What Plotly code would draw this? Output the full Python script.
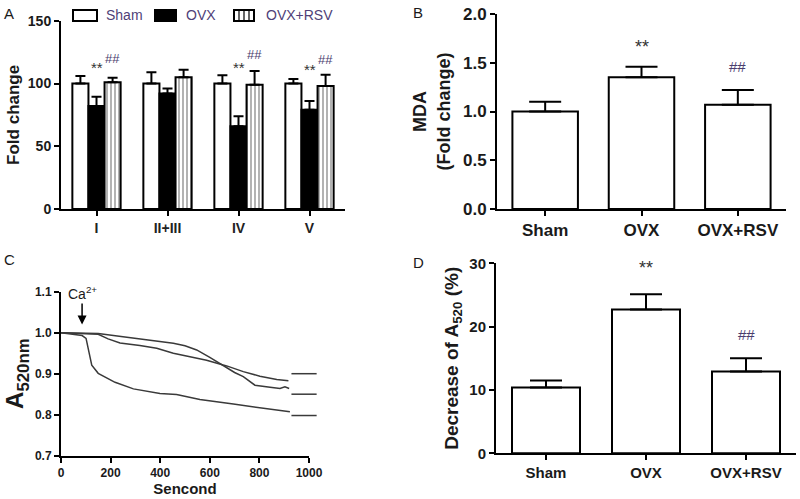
import plotly.graph_objects as go

W, H = 800, 499
FONT = "Liberation Sans, Arial, sans-serif"
TXT = "#1a1a1a"

# ---------------- Panel A data ----------------
complexes = ["I", "II+III", "IV", "V"]
a_sham = [100, 100, 100, 100]
a_sham_err = [6, 9, 6.5, 3.5]
a_ovx = [82, 92, 66, 79]
a_ovx_err = [7.5, 4, 8, 7]
a_rsv = [101, 105, 99, 98]
a_rsv_err = [3.5, 6, 11, 9]
a_star_y = [113, None, 113, 111]
a_hash_y = [120, None, 123, 119.5]

# ---------------- Panel B / D data ----------------
groups = ["Sham", "OVX", "OVX+RSV"]
b_mda = [1.0, 1.35, 1.07]
b_err = [0.1, 0.11, 0.15]
b_sig = ["", "**", "##"]
b_sig_y = [None, 1.66, 1.46]

d_dec = [10.4, 22.7, 12.9]
d_err = [1.1, 2.4, 2.1]
d_sig = ["", "**", "##"]
d_sig_y = [None, 29.3, 18.7]

# ---------------- Panel C data ----------------
c_sham_t = [0, 60, 100, 150, 190, 238, 318, 386, 453, 520, 587, 654, 668, 735, 802, 870, 917]
c_sham = [1.0, 0.999, 0.998, 0.996, 0.985, 0.975, 0.969, 0.962, 0.95, 0.942, 0.933, 0.921, 0.919, 0.905, 0.894, 0.886, 0.883]
c_rsv_t = [0, 100, 150, 250, 318, 400, 453, 500, 547, 600, 654, 700, 735, 782, 843, 883, 903, 920]
c_rsv = [1.0, 0.999, 0.998, 0.99, 0.985, 0.978, 0.974, 0.968, 0.958, 0.94, 0.919, 0.903, 0.893, 0.872, 0.867, 0.864, 0.868, 0.864]
c_ovx_t = [0, 50, 85, 101, 112, 124, 150, 184, 218, 292, 399, 466, 560, 695, 829, 923]
c_ovx = [1.0, 0.996, 0.993, 0.986, 0.955, 0.921, 0.901, 0.889, 0.879, 0.863, 0.852, 0.849, 0.837, 0.826, 0.814, 0.807]
c_labels = ["Sham", "OVX+RSV", "OVX"]
c_label_y = [0.90, 0.85, 0.798]
ca_time = 85


def px(x):
    return x / W


def py(y):
    return 1 - y / H


fig = go.Figure()

err_common = dict(type="data", symmetric=False, color="black", thickness=2)

# Panel A bars
fig.add_trace(go.Bar(x=complexes, y=a_sham, name="Sham", xaxis="x", yaxis="y",
                     marker=dict(color="white", line=dict(color="black", width=2)),
                     error_y=dict(array=a_sham_err, arrayminus=[0] * 4, width=5, **err_common),
                     showlegend=False))
fig.add_trace(go.Bar(x=complexes, y=a_ovx, name="OVX", xaxis="x", yaxis="y",
                     marker=dict(color="black", line=dict(color="black", width=2)),
                     error_y=dict(array=a_ovx_err, arrayminus=[0] * 4, width=5, **err_common),
                     showlegend=False))
fig.add_trace(go.Bar(x=complexes, y=a_rsv, name="OVX+RSV", xaxis="x", yaxis="y",
                     marker=dict(color="white", line=dict(color="black", width=2),
                                 pattern=dict(shape="|", fgcolor="black", bgcolor="white",
                                              size=4, solidity=0.3)),
                     error_y=dict(array=a_rsv_err, arrayminus=[0] * 4, width=5, **err_common),
                     showlegend=False))

# Panel B
fig.add_trace(go.Bar(x=groups, y=b_mda, xaxis="x2", yaxis="y2",
                     marker=dict(color="white", line=dict(color="black", width=2)),
                     error_y=dict(array=b_err, arrayminus=[0] * 3, width=16, **err_common),
                     showlegend=False))

# Panel C
for t, v in [(c_sham_t, c_sham), (c_rsv_t, c_rsv), (c_ovx_t, c_ovx)]:
    fig.add_trace(go.Scatter(x=t, y=v, mode="lines", xaxis="x3", yaxis="y3",
                             line=dict(color="#3a3a3a", width=1.5), showlegend=False))
fig.add_trace(go.Scatter(x=[980] * 3, y=c_label_y, mode="markers", xaxis="x3", yaxis="y3",
                         marker=dict(symbol="line-ew", size=18,
                                     line=dict(color="#3a3a3a", width=1.5)),
                         cliponaxis=False, showlegend=False, hoverinfo="skip"))

# Panel D
fig.add_trace(go.Bar(x=groups, y=d_dec, xaxis="x4", yaxis="y4",
                     marker=dict(color="white", line=dict(color="black", width=2)),
                     error_y=dict(array=d_err, arrayminus=[0] * 3, width=16, **err_common),
                     showlegend=False))

axis_common = dict(showline=True, linecolor="black", linewidth=2, ticks="outside",
                   ticklen=5, tickwidth=2, tickcolor="black", showgrid=False,
                   zeroline=False, mirror=False, automargin=False)


def ttl(text, size, standoff):
    return dict(text=text, standoff=standoff, font=dict(size=size, family=FONT, color=TXT))


fig.update_layout(
    width=W, height=H, margin=dict(l=0, r=0, t=0, b=0, autoexpand=False),
    paper_bgcolor="white", plot_bgcolor="white",
    barmode="group", bargap=0.32, bargroupgap=0,
    font=dict(family=FONT, color=TXT),
    xaxis=dict(domain=[px(61), px(345)], anchor="y", type="category",
               tickfont=dict(size=14, family=FONT, weight="bold", color="#222"), **axis_common),
    yaxis=dict(domain=[py(209), py(20.75)], anchor="x", range=[0, 150], dtick=50,
               title=ttl("<b>Fold change</b>", 17, 4),
               tickfont=dict(size=14, family=FONT, weight="bold"), **axis_common),
    xaxis2=dict(domain=[px(497), px(786)], anchor="y2", type="category",
                tickfont=dict(size=17, family=FONT, weight="bold"), **axis_common),
    yaxis2=dict(domain=[py(209), py(14)], anchor="x2", range=[0, 2.0], dtick=0.5,
                title=ttl("<b>MDA<br>(Fold change)</b>", 18, 8),
                tickformat=".1f", tickfont=dict(size=17, family=FONT, weight="bold"), **axis_common),
    xaxis3=dict(domain=[px(61), px(309)], anchor="y3", range=[0, 1000], dtick=200,
                title=ttl("<b>Sencond</b>", 15, 2),
                tickfont=dict(size=12, family=FONT, weight="bold"), **axis_common),
    yaxis3=dict(domain=[py(455.7), py(291.7)], anchor="x3", range=[0.7, 1.1], dtick=0.1,
                title=ttl("<b>A<sub>520nm</sub></b>", 24, 4),
                tickformat=".1f", tickfont=dict(size=12, family=FONT, weight="bold"), **axis_common),
    xaxis4=dict(domain=[px(496), px(796)], anchor="y4", type="category",
                tickfont=dict(size=15, family=FONT, weight="bold"), **axis_common),
    yaxis4=dict(domain=[py(453.3), py(263.3)], anchor="x4", range=[0, 30], dtick=10,
                title=ttl("<b>Decrease of A<sub>520</sub> (%)</b>", 19, 6),
                tickfont=dict(size=15, family=FONT, weight="bold"), **axis_common),
)

ann = []
# panel letters
for letter, x, y in [("A", 9, 13), ("B", 418, 12), ("C", 9, 259), ("D", 418, 262)]:
    ann.append(dict(text=letter, x=px(x), y=py(y), xref="paper", yref="paper",
                    xanchor="center", yanchor="middle",
                    showarrow=False, font=dict(size=15, family=FONT, color=TXT)))

# significance marks, panel A
off = 0.68 / 3
for i in range(len(complexes)):
    if a_star_y[i] is not None:
        ann.append(dict(text="**", x=i, y=a_star_y[i], xref="x", yref="y", showarrow=False,
                        font=dict(size=15, family=FONT, color="#333")))
    if a_hash_y[i] is not None:
        ann.append(dict(text="##", x=i + off, y=a_hash_y[i], xref="x", yref="y", showarrow=False,
                        font=dict(size=13, family=FONT, color="#4a3d6e")))
for i in range(3):
    if b_sig_y[i] is not None:
        ann.append(dict(text=b_sig[i], x=i, y=b_sig_y[i], xref="x2", yref="y2", showarrow=False,
                        font=dict(size=18 if b_sig[i] == "**" else 15, family=FONT,
                                  color="#333" if b_sig[i] == "**" else "#4a3d6e")))
    if d_sig_y[i] is not None:
        ann.append(dict(text=d_sig[i], x=i, y=d_sig_y[i], xref="x4", yref="y4", showarrow=False,
                        font=dict(size=18 if d_sig[i] == "**" else 15, family=FONT,
                                  color="#333" if d_sig[i] == "**" else "#4a3d6e")))

# panel C labels
for lab, yv in zip(c_labels, c_label_y):
    ann.append(dict(text=lab, x=1045, y=yv, xref="x3", yref="y3", showarrow=False,
                    xanchor="left", yanchor="middle",
                    font=dict(size=13, family=FONT, color=TXT)))
ann.append(dict(text="Ca<sup>2+</sup>", x=ca_time, y=1.02, ax=ca_time, ay=1.097,
                xref="x3", yref="y3", axref="x3", ayref="y3", showarrow=True,
                arrowhead=2, arrowsize=1.2, arrowwidth=1.5, arrowcolor="black",
                font=dict(size=14, family=FONT, color=TXT)))

# panel A legend text
for lab, x in [("Sham", 104), ("OVX", 184), ("OVX+RSV", 264)]:
    ann.append(dict(text=lab, x=px(x), y=py(15.5), xref="paper", yref="paper",
                    showarrow=False, xanchor="left", yanchor="middle",
                    font=dict(size=14, family=FONT, color="#4f3f78")))

shapes = []
for (x0, x1), fill in [((73, 97), "white"), ((155, 176), "black"), ((234, 254), "white")]:
    shapes.append(dict(type="rect", xref="paper", yref="paper", x0=px(x0), x1=px(x1),
                       y0=py(21), y1=py(10), fillcolor=fill, line=dict(color="black", width=2)))
for xl in [239, 244, 249]:
    shapes.append(dict(type="line", xref="paper", yref="paper", x0=px(xl), x1=px(xl),
                       y0=py(21), y1=py(10), line=dict(color="black", width=1.2)))

fig.update_layout(annotations=ann, shapes=shapes)
fig.write_html("out.html", config={"displayModeBar": False},
               post_script="document.body.style.margin='0';document.body.style.padding='0';")
